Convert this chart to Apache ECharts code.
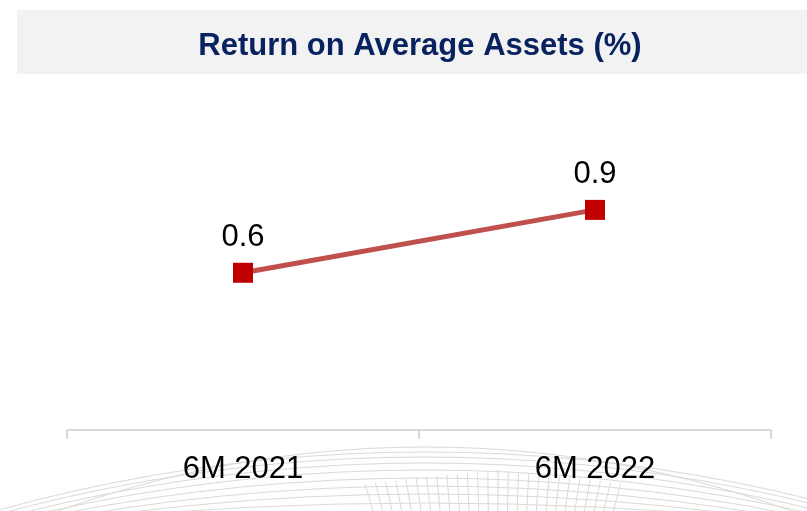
<!DOCTYPE html>
<html>
<head>
<meta charset="utf-8">
<script src="https://cdn.jsdelivr.net/npm/echarts@6/dist/echarts.min.js"></script>
<style>
  html, body { margin: 0; padding: 0; background: #ffffff; }
  #main { width: 807px; height: 511px; }
</style>
</head>
<body>
<div id="main"></div>
<script>
// data
var categories = ['6M 2021', '6M 2022'];
var roaValues = [0.6, 0.9];
var chartTitle = 'Return on Average Assets (%)';

var myChart = echarts.init(document.getElementById('main'));

// faint globe watermark at the bottom (decoration only)
var deco = [];
var arcTops = [447, 452, 457, 463, 470, 478, 486, 494, 503];
var arcHalf = [367, 430, 415, 395, 375, 350, 320, 285, 240];
for (var i = 0; i < arcTops.length; i++) {
    var h = 511 - arcTops[i];
    var r = (arcHalf[i] * arcHalf[i] + h * h) / (2 * h);
    deco.push({
        type: 'circle', silent: true, z: -10,
        shape: { cx: 425, cy: arcTops[i] + r, r: r },
        style: { fill: 'none', stroke: '#dcd9d5', lineWidth: 1 }
    });
}
for (var k = 0; k < 26; k++) {
    var x = 368 + k * 10;
    var d = (x - 495) / 130;
    deco.push({
        type: 'line', silent: true, z: -10,
        shape: { x1: x + d * 3, y1: 470 + Math.abs(d) * 14, x2: x - d * 5, y2: 511 },
        style: { stroke: '#dcd9d5', lineWidth: 1 }
    });
}
// title band
deco.push({
    type: 'rect', silent: true, z: -5,
    shape: { x: 17, y: 10, width: 790, height: 64 },
    style: { fill: '#f2f2f2' }
});

var option = {
    backgroundColor: '#ffffff',
    animation: false,
    title: {
        text: chartTitle,
        left: 415,
        top: 26,
        textAlign: 'center',
        textStyle: {
            color: '#08215f',
            fontFamily: 'Liberation Sans, Arial, sans-serif',
            fontWeight: 'bold',
            fontSize: 31
        }
    },
    graphic: deco,
    grid: {
        left: 67,
        right: 36,
        top: 147,
        bottom: 81
    },
    xAxis: {
        type: 'category',
        data: categories,
        boundaryGap: true,
        axisLine: { show: true, onZero: false, lineStyle: { color: '#d9d9d9', width: 2 } },
        axisTick: { show: true, length: 9, lineStyle: { color: '#d9d9d9', width: 2 } },
        axisLabel: {
            color: '#000000',
            fontFamily: 'Liberation Sans, Arial, sans-serif',
            fontSize: 31,
            margin: 24
        }
    },
    yAxis: {
        type: 'value',
        min: -0.15,
        max: 1.2,
        show: false
    },
    series: [
        {
            name: 'ROAA',
            type: 'line',
            data: roaValues,
            symbol: 'rect',
            symbolSize: 20,
            itemStyle: { color: '#c00000' },
            lineStyle: { color: '#c0504d', width: 5 },
            label: {
                show: true,
                position: 'top',
                distance: 10,
                color: '#000000',
                fontFamily: 'Liberation Sans, Arial, sans-serif',
                fontSize: 31,
                formatter: function (p) { return p.value.toFixed(1); }
            }
        }
    ]
};

myChart.setOption(option);
</script>
</body>
</html>
